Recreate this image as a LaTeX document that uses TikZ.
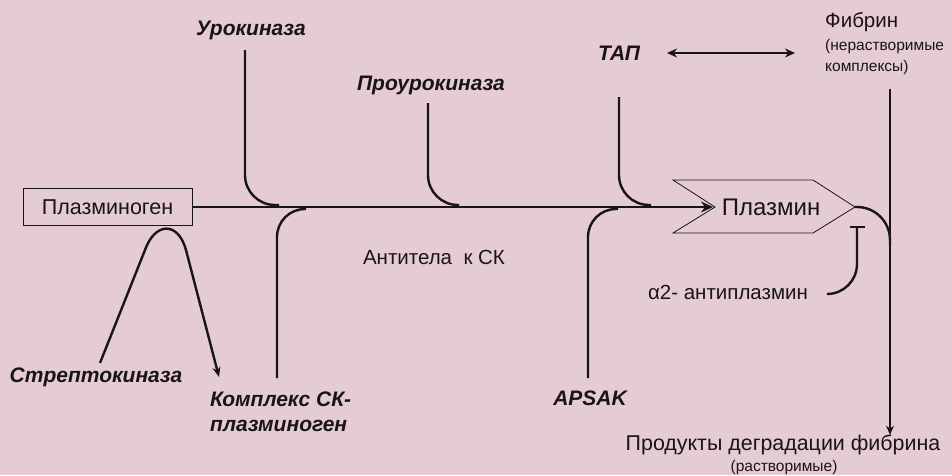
\documentclass[tikz,border=0pt]{standalone}
\usepackage{fontspec}
\setmainfont{Liberation Sans}
\usetikzlibrary{arrows.meta}
\definecolor{bgpink}{RGB}{229,204,212}
\definecolor{ink}{RGB}{25,20,22}
\begin{document}
\begin{tikzpicture}[x=1pt,y=-1pt,
  lbl/.style={font=\fontsize{21}{25}\selectfont\bfseries\itshape, inner sep=0pt, text=ink},
  txt/.style={font=\fontsize{20.5}{24}\selectfont, inner sep=0pt, text=ink},
  small/.style={font=\fontsize{15.5}{18}\selectfont, inner sep=0pt, text=ink},
  conn/.style={line width=2.4pt, draw=ink},
  thinline/.style={line width=0.8pt, draw=ink},
  tipA/.style={-{Stealth[length=12pt,width=11pt]}},
  curvy/.style={rounded corners=30pt}]
\fill[bgpink] (0,0) rectangle (952,475);
\useasboundingbox (0,0) rectangle (952,475);

% nodes
\node[thinline, draw, minimum width=169pt, minimum height=37pt, inner sep=0pt,
      font=\fontsize{21.5}{24}\selectfont, text=ink] (plg) at (107.5,207) {Плазминоген};
\node[lbl] (uro) at (251,30) {Урокиназа};
\node[lbl] (prouro) at (431,85) {Проурокиназа};
\node[lbl] (tap) at (619,53) {ТАП};
\node[anchor=west, font=\fontsize{20.5}{24}\selectfont, inner sep=0pt, text=ink] (fib) at (825,22) {Фибрин};
\node[small, anchor=west] (fib2) at (825,46) {(нерастворимые};
\node[small, anchor=west] (fib3) at (825,67) {комплексы)};
\node[lbl] (strep) at (96,377) {Стрептокиназа};
\node[lbl, align=left, anchor=west] (sk) at (210,412) {Комплекс СК-\\плазминоген};
\node[txt] (ab) at (434,257) {Антитела \ к СК};
\node[lbl] (apsak) at (590,398) {APSAK};
\node[txt] (a2) at (728,292) {α2- антиплазмин};
\node[font=\fontsize{21.4}{24}\selectfont, inner sep=0pt, text=ink] (fdp) at (783,445) {Продукты деградации фибрина};
\node[small] (fdp2) at (784,467) {(растворимые)};

% plasmin shape
\draw[thinline] (673,180) -- (813,180) -- (855,207) -- (813,233) -- (673,233) -- (715,207) -- cycle;
\node[font=\fontsize{24}{28}\selectfont, inner sep=0pt, text=ink] (plasmin) at (771,207) {Плазмин};
\coordinate (ptip) at (855,207);
\coordinate (pin) at (713,207);

% main line
\draw[conn, tipA] (plg.east) -- (pin);

% branches from above
\coordinate (u0) at (245,50);   \coordinate (u1) at (279,205);
\coordinate (p0) at (428,103);  \coordinate (p1) at (459,205);
\coordinate (t0) at (619,97);   \coordinate (t1) at (651,205);
\draw[conn, curvy] (u0) |- (u1);
\draw[conn, curvy] (p0) |- (p1);
\draw[conn, curvy] (t0) |- (t1);

% branches from below
\coordinate (k0) at (277,378);  \coordinate (k1) at (306,209);
\coordinate (a0) at (588,378);  \coordinate (a1) at (618,209);
\draw[conn, rounded corners=28pt] (k0) |- (k1);
\draw[conn, rounded corners=28pt] (a0) |- (a1);

% streptokinase loop
\coordinate (s0) at (100,363);
\coordinate (s1) at (219,377);
\draw[conn, -{Stealth[length=10pt,width=8pt]}] (s0) -- (145,250)
  .. controls (155,222) and (178,221) .. (186,250) -- (s1);

% TAP double arrow
\coordinate (d0) at (667,53);
\coordinate (d1) at (795,53);
\draw[line width=2.6pt, draw=ink, {Stealth[length=10pt,width=9pt]}-{Stealth[length=10pt,width=9pt]}] (d0) -- (d1);

% fibrin line
\coordinate (f0) at (890,89);
\draw[conn, -{Stealth[length=9pt,width=8pt]}] (f0) -- (f0 |- fdp.north);

% plasmin to fibrin
\draw[conn, rounded corners=33pt] (ptip) -| (890,245);

% alpha2 antiplasmin inhibition
\coordinate (i0) at (857,226);
\coordinate (i1) at (828,294);
\draw[conn, {Bar[width=15pt]}-, rounded corners=30pt] (i0) |- (i1);
\end{tikzpicture}
\end{document}
